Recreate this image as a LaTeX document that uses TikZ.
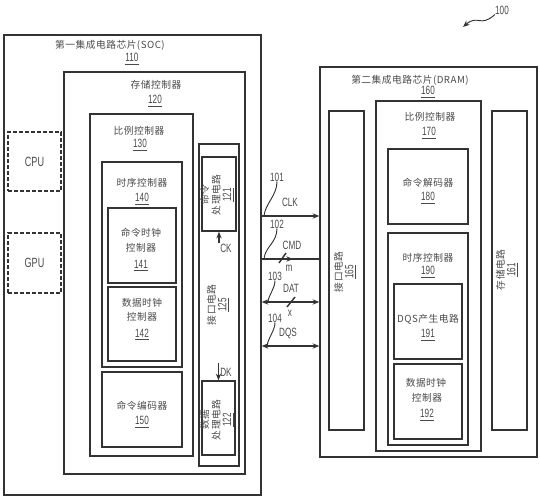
\documentclass[tikz,border=0pt]{standalone}
\usepackage{fontspec}
\setmainfont{Liberation Sans}
\newfontfamily\cjk[LetterSpace=5]{Noto Sans CJK SC}
\newfontfamily\narrow[FakeStretch=0.68]{Liberation Sans}
\usetikzlibrary{arrows.meta,fit}
\definecolor{ink}{HTML}{333333}
\definecolor{txt}{HTML}{4A4A4A}
\newcommand{\refno}[1]{{\narrow\fontsize{9}{10}\selectfont\underline{#1}}}
\tikzset{>={Stealth[length=5pt,width=4pt]},box/.style={draw=ink,line width=1.1pt,inner sep=0pt},dbox/.style={box,dash pattern=on 3pt off 1.5pt},cn/.style={font=\cjk\fontsize{7.3}{10}\selectfont,text=txt,inner sep=0pt,align=center},num/.style={font=\narrow\fontsize{9}{10}\selectfont,text=txt,inner sep=0pt},vt/.style={cn,rotate=90,font=\cjk\fontsize{7.3}{8.5}\selectfont},sig/.style={ink,line width=1.1pt},lead/.style={ink,line width=.7pt}}

\begin{document}
\begin{tikzpicture}[x=0.75pt,y=-0.75pt]
\useasboundingbox (0,0) rectangle (540,503);
\foreach \nm/\xa/\ya/\xb/\yb in {soc/4/35/261/495,mc/64/72/245/474,rca/90/114/193/456,tca/102/162/182/367,ccc/108/208/176/283,dcca/108/287/176/361,enc/102/372/182/447,ifa/199/144/239/466,cpc/202/157/236/231,dpc/202/381/235/455,dram/320/67/537/457,rcb/376/101/481/451,dec/388/149/468/224,tcb/388/233/468/445,dqs/394/284/462/359,dccb/394/364/462/439,ifb/329/111/364/430,mem/492/111/527/430}{
\node[box,fit={(\xa,\ya) (\xb,\yb)}] (\nm) {};}
\node[dbox,fit={(8,132) (61,191)}] (cpu) {};
\node[dbox,fit={(8,233) (61,293)}] (gpu) {};
\foreach \x/\y/\t [count=\k] in {110/45/第一集成电路芯片(SOC),156/85/存储控制器,139/131/比例控制器,142/183/时序控制器,141/233/命令时钟,141/248/控制器,142/303/数据时钟,142/317/控制器,142/406/命令编码器,410/80/第二集成电路芯片(DRAM),430/117/比例控制器,428/183/命令解码器,428/258/时序控制器,428/319/DQS产生电路,426/383/数据时钟,427/398/控制器}{
\node[cn] (c\k) at (\x,\y) {\t};}
\foreach \x/\y/\n in {132/59/110,155/101/120,140/145/130,142/199/140,141/266/141,142/335/142,142/422/150,428/92/160,429/133/170,428/198/180,428/272/190,428/335/191,427/415/192}{
\node[num] (n\n) at (\x,\y) {\underline{\n}};}
\node[vt] (v121) at (217,195) {命令\\处理电路\\\refno{121}};
\node[vt] (v125) at (218,305) {接口电路\\\refno{125}};
\node[vt] (v122) at (217,420) {数据\\处理电路\\\refno{122}};
\node[vt] (v165) at (345,272) {接口电路\\\refno{165}};
\node[vt] (v161) at (507,270) {存储电路\\\refno{161}};
\node[num,font=\narrow\fontsize{10}{11}\selectfont] (tcpu) at (cpu) {CPU};
\node[num,font=\narrow\fontsize{10}{11}\selectfont] (tgpu) at (gpu) {GPU};
\node[num] (ck) at (226,248) {CK};
\node[num] (dk) at (226,372) {DK};
\node[num] (lclk) at (290,202) {CLK};
\node[num] (lcmd) at (292,245) {CMD};
\node[num] (ldat) at (291,288) {DAT};
\node[num] (ldqs) at (288,333) {DQS};
\node[num] (lm) at (289,268) {m};
\node[num] (lx) at (290,313) {x};
\node[num] (l101) at (277,177) {101};
\node[num] (l102) at (277,224) {102};
\node[num] (l103) at (275,276) {103};
\node[num] (l104) at (275,318) {104};
\node[num] (l100) at (502,10) {100};
\coordinate (clk) at (290,216);
\coordinate (cmd) at (293,259);
\coordinate (dat) at (291,302);
\coordinate (dqs) at (290,346);
\draw[sig,->] (soc.east|-clk) -- (dram.west|-clk);
\draw[sig] (soc.east|-cmd) -- (dram.west|-cmd);
\draw[sig,->] (soc.east|-cmd) -- (cmd);
\draw[sig] (cmd) ++(-14,4) -- ++(7,-10);
\draw[sig,<->] (soc.east|-dat) -- (dram.west|-dat);
\draw[sig] (dat) ++(-4,5) -- ++(8,-10);
\draw[sig,<->] (soc.east|-dqs) -- (dram.west|-dqs);
\draw[sig,->] (cpc.south|-ck.north) -- (cpc.south);
\draw[sig,->] (dpc.north|-dk.north) ++(0,-5) -- (dpc.north);
\coordinate (e101) at (264,216);
\coordinate (e102) at (264,259);
\coordinate (e103) at (268,302);
\coordinate (e104) at (267,346);
\draw[lead] (l101.south) .. controls +(0,14) and +(1,-12) .. (e101);
\draw[lead] (l102.south) .. controls +(0,14) and +(1,-12) .. (e102);
\draw[lead] (l103.south) .. controls +(0,8) and +(1,-8) .. (e103);
\draw[lead] (l104.south) .. controls +(0,8) and +(1,-8) .. (e104);
\coordinate (e100) at (463,27);
\draw[lead,->] (l100.south west) .. controls (480,28) and (478,14) .. (e100);
\end{tikzpicture}
\end{document}
